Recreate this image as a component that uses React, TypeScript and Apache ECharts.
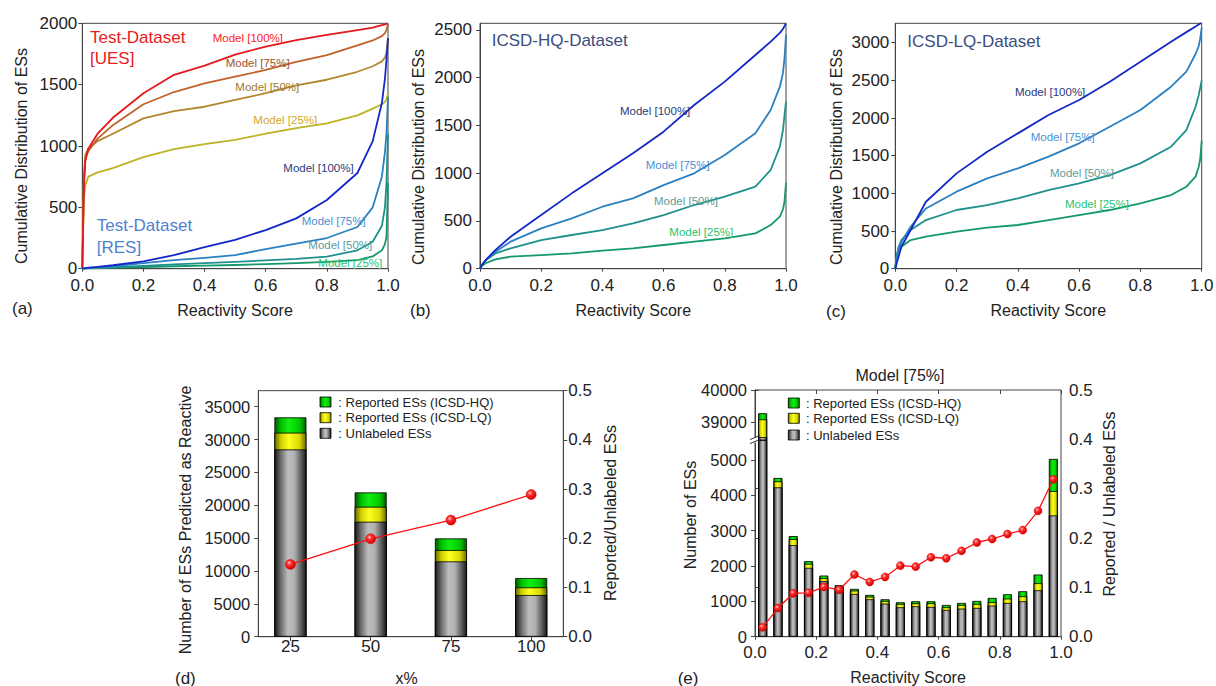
import React, { useEffect, useRef } from "react";
import * as echarts from "echarts";

const FONT = "'Liberation Sans', Arial, Helvetica, sans-serif";

// ---------- panels (a)-(c): cumulative distributions ----------
const X_CUM = [0, 0.005, 0.01, 0.02, 0.05, 0.1, 0.2, 0.3, 0.4, 0.5, 0.6, 0.7, 0.8, 0.9, 0.95, 0.98, 0.99, 0.995, 1];

const A_UES_100 = [0, 650, 880, 980, 1100, 1230, 1430, 1580, 1655, 1745, 1810, 1862, 1905, 1945, 1965, 1985, 1992, 1996, 2000];
const A_UES_75 = [0, 700, 900, 960, 1060, 1170, 1340, 1440, 1510, 1565, 1620, 1685, 1740, 1820, 1860, 1895, 1920, 1945, 1990];
const A_UES_50 = [0, 760, 930, 980, 1040, 1100, 1225, 1285, 1320, 1375, 1430, 1495, 1540, 1605, 1650, 1690, 1720, 1760, 1880];
const A_UES_25 = [0, 560, 680, 750, 785, 820, 910, 975, 1015, 1050, 1100, 1145, 1185, 1250, 1305, 1340, 1360, 1380, 1430];
const A_RES_100 = [0, 2, 4, 8, 15, 28, 60, 110, 175, 235, 315, 410, 560, 780, 1040, 1350, 1550, 1700, 1880];
const A_RES_75 = [0, 1, 3, 5, 10, 20, 45, 70, 88, 110, 160, 205, 250, 340, 500, 750, 950, 1100, 1400];
const A_RES_50 = [0, 1, 2, 3, 6, 12, 22, 35, 45, 55, 68, 80, 98, 150, 220, 350, 500, 700, 1100];
const A_RES_25 = [0, 0, 1, 2, 4, 8, 14, 20, 25, 30, 38, 45, 55, 70, 100, 150, 200, 260, 700];

const B_100 = [0, 30, 55, 95, 195, 335, 562, 789, 999, 1208, 1435, 1714, 1959, 2238, 2378, 2470, 2510, 2540, 2570];
const B_75 = [0, 30, 55, 95, 178, 283, 422, 527, 649, 737, 876, 999, 1191, 1418, 1662, 1906, 2050, 2200, 2450];
const B_50 = [0, 30, 55, 90, 160, 213, 300, 353, 405, 475, 562, 667, 754, 859, 1034, 1278, 1450, 1600, 1750];
const B_25 = [0, 25, 40, 60, 98, 126, 143, 160, 189, 213, 248, 283, 318, 370, 457, 545, 620, 700, 900];

const C_100 = [0, 80, 150, 292, 513, 889, 1265, 1553, 1796, 2040, 2239, 2482, 2748, 3013, 3140, 3215, 3240, 3255, 3265];
const C_75 = [0, 150, 250, 350, 557, 800, 1022, 1199, 1332, 1487, 1664, 1885, 2106, 2416, 2615, 2850, 2950, 3050, 3200];
const C_50 = [0, 180, 280, 380, 513, 646, 779, 845, 934, 1044, 1133, 1243, 1398, 1619, 1840, 2150, 2300, 2400, 2500];
const C_25 = [0, 180, 250, 292, 380, 425, 491, 544, 580, 646, 712, 779, 867, 978, 1088, 1221, 1350, 1450, 1700];

const A_Y_TICKS = [0, 500, 1000, 1500, 2000];
const B_Y_TICKS = [0, 500, 1000, 1500, 2000, 2500];
const C_Y_TICKS = [0, 500, 1000, 1500, 2000, 2500, 3000];

// ---------- panel (d) ----------
const D_X = [25, 50, 75, 100];
const D_UNL = [28500, 17500, 11460, 6340];
const D_LQ = [2550, 2280, 1730, 1170];
const D_HQ = [2330, 2180, 1770, 1420];
const D_RATIO = [0.147, 0.199, 0.237, 0.289];
const D_Y_TICKS = [0, 5000, 10000, 15000, 20000, 25000, 30000, 35000];

// ---------- panel (e) ----------
const E_X = [0.025, 0.075, 0.125, 0.175, 0.225, 0.275, 0.325, 0.375, 0.425, 0.475, 0.525, 0.575, 0.625, 0.675, 0.725, 0.775, 0.825, 0.875, 0.925, 0.975];
const E_UNL = [38540, 4222, 2589, 1946, 1569, 1340, 1209, 1058, 935, 832, 860, 841, 756, 794, 813, 879, 954, 1002, 1313, 3428];
const E_LQ = [550, 170, 170, 114, 84, 60, 94, 75, 76, 94, 85, 104, 76, 103, 113, 95, 123, 141, 199, 690];
const E_HQ = [190, 95, 85, 75, 75, 56, 48, 48, 47, 48, 57, 57, 65, 57, 85, 122, 123, 142, 245, 907];
const E_RATIO = [0.019, 0.058, 0.088, 0.089, 0.101, 0.095, 0.126, 0.111, 0.121, 0.144, 0.142, 0.161, 0.159, 0.174, 0.191, 0.198, 0.208, 0.216, 0.255, 0.319];
const E_LOW_TICKS = [0, 1000, 2000, 3000, 4000, 5000];
const E_UP_TICKS = [39000, 40000];

const COL = {
  ues100: "#E3191C",
  ues75: "#C0622B",
  ues50: "#B3862F",
  ues25: "#BDB323",
  res100: "#1428C8",
  res75: "#2A80C0",
  res50: "#1E918C",
  res25: "#14996A",
};

const grayGrad = {
  type: "linear", x: 0, y: 0, x2: 1, y2: 0,
  colorStops: [
    { offset: 0, color: "#1a1a1a" },
    { offset: 0.2, color: "#707070" },
    { offset: 0.42, color: "#bdbdbd" },
    { offset: 0.62, color: "#b2b2b2" },
    { offset: 0.85, color: "#5a5a5a" },
    { offset: 1, color: "#1a1a1a" },
  ],
};
const yellowGrad = {
  type: "linear", x: 0, y: 0, x2: 1, y2: 0,
  colorStops: [
    { offset: 0, color: "#6a6a00" },
    { offset: 0.2, color: "#d0d000" },
    { offset: 0.45, color: "#ffff20" },
    { offset: 0.8, color: "#d8d800" },
    { offset: 1, color: "#6a6a00" },
  ],
};
const greenGrad = {
  type: "linear", x: 0, y: 0, x2: 1, y2: 0,
  colorStops: [
    { offset: 0, color: "#005a00" },
    { offset: 0.2, color: "#00c000" },
    { offset: 0.45, color: "#10ee10" },
    { offset: 0.8, color: "#00c800" },
    { offset: 1, color: "#005a00" },
  ],
};
const dotGrad = {
  type: "radial", x: 0.38, y: 0.35, r: 0.65,
  colorStops: [
    { offset: 0, color: "#ffc8c8" },
    { offset: 0.35, color: "#ff3030" },
    { offset: 1, color: "#d00000" },
  ],
};

const AX = "#444";
const plain = (v: number) => String(v);

function cumSeries(ys: number[], color: string, gi: number) {
  return {
    type: "line",
    xAxisIndex: gi,
    yAxisIndex: gi,
    data: X_CUM.map((x, i) => [x, ys[i]]),
    showSymbol: false,
    smooth: false,
    lineStyle: { color, width: 1.8, join: "round" },
    silent: true,
    clip: true,
  };
}

function cumXAxis(gi: number) {
  return {
    type: "value",
    gridIndex: gi,
    min: 0,
    max: 1,
    interval: 0.2,
    axisLine: { show: true, onZero: false, lineStyle: { color: AX } },
    axisTick: { show: true, length: 3, lineStyle: { color: AX } },
    axisLabel: { fontSize: 17, fontFamily: FONT, color: "#222", margin: 8, formatter: (v: number) => v.toFixed(1) },
    splitLine: { show: false },
  };
}

function leftYAxis(gi: number, min: number, max: number, ticks: number[], margin: number, size: number) {
  return {
    type: "value",
    gridIndex: gi,
    position: "left",
    min,
    max,
    axisLine: { show: true, onZero: false, lineStyle: { color: AX } },
    axisTick: { show: true, length: 4, lineStyle: { color: AX }, customValues: ticks },
    axisLabel: { fontSize: size, fontFamily: FONT, color: "#222", margin, customValues: ticks, formatter: plain },
    splitLine: { show: false },
  };
}

function txt(text: string, x: number, y: number, color: string, size: number, align = "left", rotation = 0) {
  return {
    type: "text",
    x,
    y,
    rotation,
    z: 50,
    silent: true,
    style: { text, fill: color, fontSize: size, fontFamily: FONT, align, verticalAlign: "middle" },
  };
}

function legendBlock(x: number, ys: number[], tx: number) {
  const fills = [greenGrad, yellowGrad, grayGrad];
  const labels = [": Reported ESs (ICSD-HQ)", ": Reported ESs (ICSD-LQ)", ": Unlabeled ESs"];
  const out: any[] = [];
  ys.forEach((cy, i) => {
    out.push({ type: "rect", z: 50, silent: true, shape: { x, y: cy - 5, width: 11, height: 10 }, style: { fill: fills[i], stroke: "#000", lineWidth: 0.8 } });
    out.push(txt(labels[i], tx, cy, "#222", 13));
  });
  return out;
}

function buildOption() {
  const modelLbl = 11.5;
  const grids = [
    { left: 82.3, top: 23.3, width: 305.7, height: 245.4 },
    { left: 480, top: 23.3, width: 306, height: 245.4 },
    { left: 895.3, top: 23.3, width: 306.4, height: 245.4 },
    { left: 258.3, top: 390.7, width: 305, height: 246 },
    { left: 755, top: 440, width: 306, height: 196.7 },
    { left: 755, top: 390, width: 306, height: 50 },
    { left: 755, top: 390, width: 306, height: 246.7 },
  ].map((g, i) => ({
    ...g,
    containLabel: false,
    outerBoundsMode: "none",
    show: i !== 4 && i !== 5,
    borderColor: AX,
    borderWidth: 1,
    backgroundColor: "transparent",
  }));

  const xAxis: any[] = [
    cumXAxis(0),
    cumXAxis(1),
    cumXAxis(2),
    {
      type: "value", gridIndex: 3, min: 15, max: 110,
      axisLine: { show: true, onZero: false, lineStyle: { color: AX } },
      axisTick: { show: true, length: 4, lineStyle: { color: AX }, customValues: D_X },
      axisLabel: { fontSize: 17, fontFamily: FONT, color: "#222", margin: 1, customValues: D_X, formatter: plain },
      splitLine: { show: false },
    },
    {
      type: "value", gridIndex: 4, min: 0, max: 1, interval: 0.2,
      axisLine: { show: true, onZero: false, lineStyle: { color: AX } },
      axisTick: { show: true, length: 3, lineStyle: { color: AX } },
      axisLabel: { fontSize: 17, fontFamily: FONT, color: "#222", margin: 7, formatter: (v: number) => v.toFixed(1) },
      splitLine: { show: false },
    },
    { type: "value", gridIndex: 5, min: 0, max: 1, show: false },
    { type: "value", gridIndex: 6, min: 0, max: 1, show: false },
    {
      type: "value", gridIndex: 3, min: 15, max: 110, position: "top",
      axisLine: { show: false },
      axisTick: { show: true, inside: true, length: 4, lineStyle: { color: AX }, customValues: D_X },
      axisLabel: { show: false },
      splitLine: { show: false },
    },
    {
      type: "value", gridIndex: 6, min: 0, max: 1, interval: 0.2, position: "top",
      axisLine: { show: false },
      axisTick: { show: true, inside: true, length: 4, lineStyle: { color: AX } },
      axisLabel: { show: false },
      splitLine: { show: false },
    },
  ];

  const rightAxis = (gi: number, margin: number) => ({
    type: "value", gridIndex: gi, position: "right", min: 0, max: 0.5, interval: 0.1,
    axisLine: { show: true, lineStyle: { color: AX } },
    axisTick: { show: true, length: 4, lineStyle: { color: AX } },
    axisLabel: { fontSize: 17, fontFamily: FONT, color: "#222", margin, formatter: (v: number) => v.toFixed(1) },
    splitLine: { show: false },
  });

  const yAxis: any[] = [
    leftYAxis(0, 0, 2000, A_Y_TICKS, 5, 17),
    leftYAxis(1, 0, 2570, B_Y_TICKS, 8, 17),
    leftYAxis(2, 0, 3257, C_Y_TICKS, 6, 17),
    leftYAxis(3, 0, 37440, D_Y_TICKS, 8, 16.5),
    rightAxis(3, 5),
    leftYAxis(4, 0, 5560, E_LOW_TICKS, 8, 16.5),
    leftYAxis(5, 38450, 40000, E_UP_TICKS, 8, 16.5),
    rightAxis(6, 8),
  ];

  const series: any[] = [
    cumSeries(A_UES_25, COL.ues25, 0),
    cumSeries(A_UES_50, COL.ues50, 0),
    cumSeries(A_UES_75, COL.ues75, 0),
    cumSeries(A_UES_100, COL.ues100, 0),
    cumSeries(A_RES_25, COL.res25, 0),
    cumSeries(A_RES_50, COL.res50, 0),
    cumSeries(A_RES_75, COL.res75, 0),
    cumSeries(A_RES_100, COL.res100, 0),
    cumSeries(B_25, COL.res25, 1),
    cumSeries(B_50, COL.res50, 1),
    cumSeries(B_75, COL.res75, 1),
    cumSeries(B_100, COL.res100, 1),
    cumSeries(C_25, COL.res25, 2),
    cumSeries(C_50, COL.res50, 2),
    cumSeries(C_75, COL.res75, 2),
    cumSeries(C_100, COL.res100, 2),
  ];

  // Stacked bars: each segment drawn as a bar up to its cumulative top, overlaid (top segment first)
  const stackSet = (xs: number[], segs: number[][], xi: number, yi: number, bw: number) => {
    const fills = [grayGrad, yellowGrad, greenGrad];
    const tops = segs.map((_, k) => xs.map((__, i) => segs.slice(0, k + 1).reduce((s, seg) => s + seg[i], 0)));
    for (let k = segs.length - 1; k >= 0; k--) {
      series.push({
        type: "bar",
        clip: true,
        silent: true,
        xAxisIndex: xi,
        yAxisIndex: yi,
        barWidth: bw,
        barGap: "-100%",
        z: 2,
        data: xs.map((x, i) => [x, tops[k][i]]),
        itemStyle: { color: fills[k], borderColor: "#000", borderWidth: 0.8 },
      });
    }
  };
  stackSet(D_X, [D_UNL, D_LQ, D_HQ], 3, 3, 32);
  stackSet(E_X, [E_UNL, E_LQ, E_HQ], 4, 5, 9);
  stackSet(E_X, [E_UNL, E_LQ, E_HQ], 5, 6, 9);

  const ratioLine = (xs: number[], ys: number[], xi: number, yi: number, size: number) => ({
    type: "line",
    xAxisIndex: xi,
    yAxisIndex: yi,
    z: 5,
    silent: true,
    data: xs.map((x, i) => [x, ys[i]]),
    symbol: "circle",
    symbolSize: size,
    lineStyle: { color: "#ff1010", width: 1.3 },
    itemStyle: { color: dotGrad, borderColor: "#e00000", borderWidth: 0.5 },
  });
  series.push(ratioLine(D_X, D_RATIO, 3, 4, 10));
  series.push(ratioLine(E_X, E_RATIO, 6, 7, 8));

  const graphic: any[] = [
    // (a)
    txt("Test-Dataset", 90, 37.5, "#E8201A", 17),
    txt("[UES]", 90, 58.5, "#E8201A", 17),
    txt("Test-Dataset", 96.7, 225.5, "#4F7FD0", 17),
    txt("[RES]", 96.7, 247.5, "#4F7FD0", 17),
    txt("Model [100%]", 212.7, 38, "#FF1A1A", modelLbl),
    txt("Model [75%]", 225.7, 63, "#A0522D", modelLbl),
    txt("Model [50%]", 235.3, 87, "#9C7A2E", modelLbl),
    txt("Model [25%]", 253.3, 120, "#D4A62A", modelLbl),
    txt("Model [100%]", 283.3, 168, "#2B3A80", modelLbl),
    txt("Model [75%]", 301.7, 221, "#4A8FD6", modelLbl),
    txt("Model [50%]", 308.3, 245, "#5E9C9C", modelLbl),
    txt("Model [25%]", 318.3, 263, "#29C46E", modelLbl),
    txt("Cumulative Distribution of ESs", 21.7, 156, "#222", 16, "center", Math.PI / 2),
    txt("Reactivity Score", 235, 310, "#222", 16, "center"),
    txt("(a)", 12, 308, "#222", 17),
    // (b)
    txt("ICSD-HQ-Dataset", 491.7, 40, "#3B4E7E", 17),
    txt("Model [100%]", 620, 111, "#2B3A80", modelLbl),
    txt("Model [75%]", 645.7, 165, "#4A8FD6", modelLbl),
    txt("Model [50%]", 654, 201, "#5E9C9C", modelLbl),
    txt("Model [25%]", 669.3, 232, "#29C46E", modelLbl),
    txt("Cumulative Distribution of ESs", 418.3, 157, "#222", 16, "center", Math.PI / 2),
    txt("Reactivity Score", 633.3, 310, "#222", 16, "center"),
    txt("(b)", 410, 310, "#222", 17),
    // (c)
    txt("ICSD-LQ-Dataset", 907.3, 41, "#3B4E7E", 17),
    txt("Model [100%]", 1015, 92, "#2B3A80", modelLbl),
    txt("Model [75%]", 1030.7, 137, "#4A8FD6", modelLbl),
    txt("Model [50%]", 1050, 173, "#5E9C9C", modelLbl),
    txt("Model [25%]", 1065, 204, "#29C46E", modelLbl),
    txt("Cumulative Distribution of ESs", 836.7, 157, "#222", 16, "center", Math.PI / 2),
    txt("Reactivity Score", 1048.3, 310, "#222", 16, "center"),
    txt("(c)", 826, 311, "#222", 17),
    // (d)
    ...legendBlock(320, [402, 417.7, 433.3], 338.3),
    txt("Number of ESs Predicted as Reactive", 185, 520, "#222", 16, "center", Math.PI / 2),
    txt("Reported/Unlabeled ESs", 610, 513, "#222", 16, "center", Math.PI / 2),
    txt("x%", 406.7, 678, "#222", 16, "center"),
    txt("(d)", 175, 678, "#222", 17),
    // (e)
    ...legendBlock(788.3, [403, 418.3, 435], 806),
    txt("Model [75%]", 900, 375, "#222", 16, "center"),
    txt("Number of ESs", 690, 515, "#222", 16, "center", Math.PI / 2),
    txt("Reported / Unlabeled ESs", 1109.6, 504, "#222", 16, "center", Math.PI / 2),
    txt("Reactivity Score", 908, 677, "#222", 16, "center"),
    txt("(e)", 677.7, 678, "#222", 17),
    // axis break marks
    { type: "rect", z: 40, silent: true, shape: { x: 751, y: 437.5, width: 7, height: 5 }, style: { fill: "#fff" } },
    { type: "line", z: 41, silent: true, shape: { x1: 750, y1: 439.5, x2: 760, y2: 435.5 }, style: { stroke: "#333", lineWidth: 1 } },
    { type: "line", z: 41, silent: true, shape: { x1: 750, y1: 443.5, x2: 760, y2: 439.5 }, style: { stroke: "#333", lineWidth: 1 } },
  ];

  return {
    animation: false,
    backgroundColor: "#ffffff",
    textStyle: { fontFamily: FONT },
    grid: grids,
    xAxis,
    yAxis,
    series,
    graphic,
  };
}

export default function App() {
  const ref = useRef<HTMLDivElement>(null);
  useEffect(() => {
    const chart = echarts.init(ref.current as HTMLDivElement, null, { renderer: "svg" });
    chart.setOption(buildOption() as any);
    return () => chart.dispose();
  }, []);
  return (
    <div
      ref={ref}
      style={{ position: "fixed", left: 0, top: 0, width: 1216, height: 686, background: "#fff" }}
    />
  );
}
